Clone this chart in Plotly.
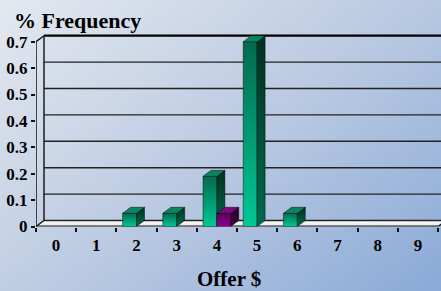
import numpy as np
import plotly.graph_objects as go

# ---------------- data ----------------
offers = [0, 1, 2, 3, 4, 5, 6, 7, 8, 9]
offer_labels = ["0", "1", "2", "3", "4", "5", "6", "7", "8", "9"]
green_freq = [0, 0, 0.05, 0.05, 0.19, 0.70, 0.05, 0, 0, 0]
purple_freq = [0, 0, 0, 0, 0.05, 0, 0, 0, 0, 0]
y_ticks = [0, 0.1, 0.2, 0.3, 0.4, 0.5, 0.6, 0.7]
y_tick_labels = ["0", "0.1", "0.2", "0.3", "0.4", "0.5", "0.6", "0.7"]

# ---------------- geometry / style ----------------
W, H = 441, 291
PX_LEFT = 36.0          # pixel of front-left edge (x=-0.5)
PX_CAT = 40.2           # pixels per category
PX_Y0 = 226.5           # pixel of y=0 on front
PX_PER_UNIT = 264.0     # pixels per 1.0 of y
Y_TOP = 0.74
X_LO = -0.5
X_HI = X_LO + (W - PX_LEFT) / PX_CAT
DX = 8.0 / PX_CAT
DY = 6.0 / PX_PER_UNIT
BAR_W = 0.345
WALL_MAX = 0.7

FONT = "Liberation Serif, Times New Roman, serif"

fig = go.Figure()

# background gradient (full paper)
gx = np.linspace(0, W, 24)
gy = np.linspace(0, H, 18)
gz = 0.55 * (gx[None, :] / W) + 0.45 * (gy[:, None] / H)
fig.add_trace(go.Heatmap(
    x=gx, y=gy, z=gz, zsmooth="best", showscale=False, hoverinfo="skip",
    zmin=0, zmax=1,
    colorscale=[[0, "#e4e8ef"], [0.5, "#bccbe2"], [1, "#8aa9d7"]],
    xaxis="x", yaxis="y"))


def seg(xs, ys, color="#1a1a1a", width=1.4):
    fig.add_trace(go.Scatter(x=xs, y=ys, mode="lines", line=dict(color=color, width=width),
                             hoverinfo="skip", showlegend=False, xaxis="x2", yaxis="y2"))


def poly(xs, ys, fill=None, grad=None, lc="rgba(0,0,0,0.75)", lw=0.6):
    kw = dict(x=xs + [xs[0]], y=ys + [ys[0]], mode="lines", fill="toself",
              line=dict(color=lc, width=lw), hoverinfo="skip", showlegend=False,
              xaxis="x2", yaxis="y2")
    if grad is not None:
        kw["fillgradient"] = dict(type="vertical", colorscale=grad)
    else:
        kw["fillcolor"] = fill
    fig.add_trace(go.Scatter(**kw))


# floor
poly([X_LO, X_LO + 10, X_LO + 10 + DX, X_LO + DX], [0, 0, DY, DY],
     grad=[[0, "#e6e6e6"], [1, "#fbfbfb"]], lc="rgba(0,0,0,0)")

# back wall grid lines and frame
for v in y_ticks[:-1]:
    seg([X_LO + DX, X_HI + 1], [v + DY, v + DY], color="#222222", width=1.4)
seg([X_LO + DX, X_HI + 1], [WALL_MAX + DY, WALL_MAX + DY], color="#000000", width=2.2)
seg([X_LO + DX, X_LO + DX], [DY, WALL_MAX + DY], color="#111111", width=1.4)
seg([X_LO, X_LO], [0, WALL_MAX], color="#111111", width=1.5)
seg([X_LO, X_LO + DX], [WALL_MAX, WALL_MAX + DY], color="#111111", width=1.4)
seg([X_LO, X_LO + DX], [0, DY], color="#111111", width=1.4)
seg([X_LO, X_LO + 10], [0, 0], color="#1a1a1a", width=2.2)
seg([X_LO + 10, X_LO + 10 + DX], [0, DY], color="#1a1a1a", width=1.4)


def bar3d(x0, x1, v, front, side, top):
    poly([x0, x1, x1, x0], [0, 0, v, v], grad=front)
    poly([x1, x1 + DX, x1 + DX, x1], [0, DY, v + DY, v], grad=side)
    poly([x0, x1, x1 + DX, x0 + DX], [v, v, v + DY, v + DY], fill=top)


GREEN_FRONT = [[0, "#00c895"], [1, "#036a4f"]]
GREEN_SIDE = [[0, "#006a50"], [1, "#00301f"]]
GREEN_TOP = "#0b8462"
PURPLE_FRONT = [[0, "#8e008e"], [1, "#5a005e"]]
PURPLE_SIDE = [[0, "#420046"], [1, "#2a002c"]]
PURPLE_TOP = "#7a0a7e"

for c, g, p in zip(offers, green_freq, purple_freq):
    if g > 0:
        bar3d(c - BAR_W, c, g, GREEN_FRONT, GREEN_SIDE, GREEN_TOP)
    if p > 0:
        bar3d(c, c + BAR_W, p, PURPLE_FRONT, PURPLE_SIDE, PURPLE_TOP)

tickfont = dict(family=FONT, size=17, color="#000000", weight="bold")

fig.update_layout(
    width=W, height=H,
    margin=dict(l=0, r=0, t=0, b=0, pad=0, autoexpand=False),
    paper_bgcolor="#c0cce0",
    plot_bgcolor="rgba(0,0,0,0)",
    showlegend=False,
    xaxis=dict(domain=[0, 1], range=[0, W], visible=False, fixedrange=True, automargin=False),
    yaxis=dict(domain=[0, 1], range=[H, 0], visible=False, fixedrange=True, automargin=False),
    xaxis2=dict(
        domain=[PX_LEFT / W, 1], range=[X_LO, X_HI], anchor="y2", automargin=False,
        tickmode="array", tickvals=offers, ticktext=offer_labels,
        ticks="", showgrid=False, zeroline=False, showline=False,
        tickfont=tickfont, ticklabelstandoff=6,
        minor=dict(tickmode="array", tickvals=[o - 0.5 for o in offers] + [offers[-1] + 0.5],
                   ticks="outside", ticklen=4, tickwidth=1.5, tickcolor="#111111"),
        fixedrange=True),
    yaxis2=dict(
        domain=[(H - PX_Y0) / H, (H - (PX_Y0 - Y_TOP * PX_PER_UNIT)) / H],
        range=[0, Y_TOP], anchor="x2", automargin=False,
        tickmode="array", tickvals=y_ticks, ticktext=y_tick_labels,
        ticks="outside", ticklen=4, tickwidth=1.5, tickcolor="#111111",
        showgrid=False, zeroline=False, showline=False,
        tickfont=tickfont, fixedrange=True),
    annotations=[
        dict(text="% Frequency", xref="paper", yref="paper", x=12 / W, y=1 - 21 / H,
             xanchor="left", yanchor="middle", showarrow=False,
             font=dict(family=FONT, size=22, color="#000000", weight="bold")),
        dict(text="Offer $", xref="paper", yref="paper", x=229 / W, y=1 - 279 / H,
             xanchor="center", yanchor="middle", showarrow=False,
             font=dict(family=FONT, size=21, color="#000000", weight="bold")),
    ],
)

fig.write_html("out.html", config={"displayModeBar": False},
               post_script=("document.body.style.margin='0';"
                            "document.body.style.overflow='hidden';"))
